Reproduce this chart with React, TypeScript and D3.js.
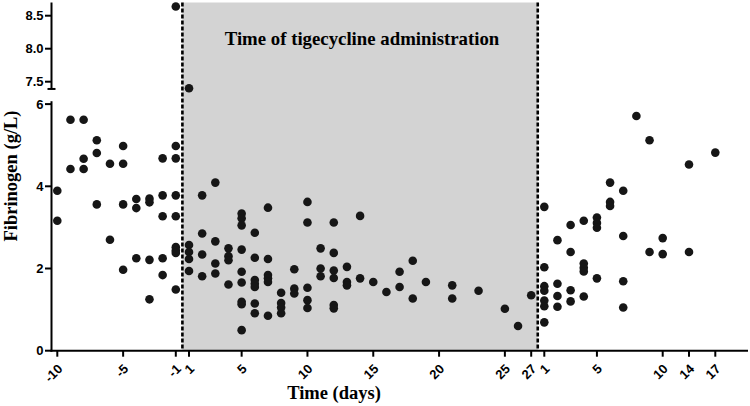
import React, { useRef, useEffect } from "react";
import * as d3 from "d3";

// tick labels per x segment (before / during / after tigecycline)
const beforeTicks = [-10, -5, -1];
const duringTicks = [1, 5, 10, 15, 20, 25, 27];
const afterTicks = [1, 5, 10, 14, 17];
const lowerTicks = [0, 2, 4, 6];
const upperTicks = [7.5, 8.0, 8.5];

// [day, fibrinogen g/L]
const beforeData: [number, number][] = [
  [-10, 3.89], [-10, 3.16],
  [-9, 5.62], [-9, 4.42],
  [-8, 5.62], [-8, 4.67], [-8, 4.42],
  [-7, 5.12], [-7, 4.81], [-7, 3.56],
  [-6, 4.55], [-6, 2.7],
  [-5, 4.98], [-5, 4.55], [-5, 3.56], [-5, 1.97],
  [-4, 3.69], [-4, 3.47], [-4, 2.25],
  [-3, 3.7], [-3, 3.61], [-3, 2.21], [-3, 1.25],
  [-2, 4.68], [-2, 3.78], [-2, 3.27], [-2, 2.25], [-2, 1.84],
  [-1, 8.64], [-1, 4.98], [-1, 4.68], [-1, 3.78], [-1, 3.27], [-1, 2.52], [-1, 2.44], [-1, 2.38], [-1, 1.49],
];

const duringData: [number, number][] = [
  [1, 7.4], [1, 2.57], [1, 2.4], [1, 2.23], [1, 1.94],
  [2, 3.78], [2, 2.85], [2, 2.34], [2, 1.81],
  [3, 4.09], [3, 2.66], [3, 2.12], [3, 1.88],
  [4, 2.49], [4, 2.3], [4, 2.2], [4, 1.61],
  [5, 3.34], [5, 3.22], [5, 3.05], [5, 2.46], [5, 1.92], [5, 1.66], [5, 1.19], [5, 1.13], [5, 0.5],
  [6, 2.87], [6, 2.26], [6, 1.72], [6, 1.63], [6, 1.55], [6, 1.15], [6, 0.91],
  [7, 3.48], [7, 2.23], [7, 1.84], [7, 1.76], [7, 1.67], [7, 0.85],
  [8, 1.41], [8, 1.16], [8, 1.05], [8, 0.91],
  [9, 1.98], [9, 1.51], [9, 1.39],
  [10, 3.62], [10, 3.12], [10, 1.53], [10, 1.23], [10, 1.04],
  [11, 2.49], [11, 2.0], [11, 1.81],
  [12, 3.12], [12, 2.38], [12, 1.95], [12, 1.77], [12, 1.11], [12, 1.03],
  [13, 2.04], [13, 1.67], [13, 1.59],
  [14, 3.28], [14, 1.76],
  [15, 1.67], [16, 1.43], [17, 1.92], [17, 1.55], [18, 2.19], [18, 1.27],
  [19, 1.67], [21, 1.59], [21, 1.27], [23, 1.46], [25, 1.02], [26, 0.6], [27, 1.35],
];

const afterData: [number, number][] = [
  [1, 3.5], [1, 2.03], [1, 1.57], [1, 1.46], [1, 1.22], [1, 1.08], [1, 0.69],
  [2, 2.69], [2, 1.63], [2, 1.33], [2, 1.07],
  [3, 3.06], [3, 2.4], [3, 1.47], [3, 1.2],
  [4, 3.16], [4, 2.12], [4, 2.02], [4, 1.93], [4, 1.32],
  [5, 3.24], [5, 3.11], [5, 2.99], [5, 1.76],
  [6, 4.09], [6, 3.62], [6, 3.52],
  [7, 3.89], [7, 2.79], [7, 1.69], [7, 1.05],
  [8, 5.71],
  [9, 5.12], [9, 2.4],
  [10, 2.74], [10, 2.35],
  [14, 4.53], [14, 2.4],
  [17, 4.82],
];

const SANS = "'Liberation Sans', Arial, sans-serif";
const SERIF = "'Liberation Serif', 'Times New Roman', serif";

export default function App() {
  const ref = useRef<SVGSVGElement>(null);

  useEffect(() => {
    const width = 750, height = 406;
    const svg = d3.select(ref.current).attr("width", width).attr("height", height);
    svg.selectAll("*").remove();

    const axisX = 51.5;
    const xBefore = d3.scaleLinear().domain([-10, -1]).range([57.3, 175.8]);
    const xDuring = d3.scaleLinear().domain([1, 27]).range([189, 531.2]);
    // after segment is not linear: 10, 14, 17 evenly spaced
    const xAfter = d3.scaleLinear().domain([1, 10, 14, 17]).range([544.3, 662.7, 689, 715.3]);

    const yLow = d3.scaleLinear().domain([0, 6]).range([350.7, 104.1]);
    const yHigh = d3.scaleLinear().domain([7.5, 8.5]).range([81.7, 15.7]);
    const yOf = (v: number) => (v > 7 ? yHigh(v) : yLow(v));

    const base = yLow(0);
    const dash1 = (xBefore(-1) + xDuring(1)) / 2;
    const dash2 = (xDuring(27) + xAfter(1)) / 2;
    const top = yHigh(8.7);

    // shaded treatment period
    svg.append("rect")
      .attr("x", dash1).attr("y", top)
      .attr("width", dash2 - dash1).attr("height", base - top)
      .attr("fill", "#d3d3d3");

    svg.append("text")
      .attr("x", 362).attr("y", 45)
      .attr("text-anchor", "middle")
      .style("font-family", SERIF).style("font-weight", "bold").style("font-size", "18.8px")
      .text("Time of tigecycline administration");

    // dashed boundaries
    [dash1, dash2].forEach(x => {
      svg.append("line")
        .attr("x1", x).attr("x2", x).attr("y1", top).attr("y2", base)
        .attr("stroke", "#000").attr("stroke-width", 2.6).attr("stroke-dasharray", "4 2");
    });

    // y axis, lower part
    svg.append("line")
      .attr("x1", axisX).attr("x2", axisX).attr("y1", yLow(6.07)).attr("y2", base + 1)
      .attr("stroke", "#000").attr("stroke-width", 2);
    // y axis, upper part
    svg.append("line")
      .attr("x1", axisX).attr("x2", axisX).attr("y1", top).attr("y2", yHigh(7.39))
      .attr("stroke", "#000").attr("stroke-width", 2);
    svg.append("line")
      .attr("x1", axisX - 4).attr("x2", axisX + 4).attr("y1", yHigh(7.39)).attr("y2", yHigh(7.39))
      .attr("stroke", "#000").attr("stroke-width", 2);

    const yTicks = [
      ...lowerTicks.map(v => ({ y: yLow(v), label: String(v) })),
      ...upperTicks.map(v => ({ y: yHigh(v), label: v.toFixed(1) })),
    ];
    yTicks.forEach(t => {
      svg.append("line")
        .attr("x1", axisX - 6.5).attr("x2", axisX).attr("y1", t.y).attr("y2", t.y)
        .attr("stroke", "#000").attr("stroke-width", 2);
      svg.append("text")
        .attr("x", axisX - 8).attr("y", t.y).attr("dy", "0.36em")
        .attr("text-anchor", "end")
        .style("font-family", SANS).style("font-weight", "bold").style("font-size", "13px")
        .text(t.label);
    });

    // x axis
    svg.append("line")
      .attr("x1", axisX - 1).attr("x2", 748).attr("y1", base).attr("y2", base)
      .attr("stroke", "#000").attr("stroke-width", 2);

    const xTicks = [
      ...beforeTicks.map(d => ({ x: xBefore(d), label: String(d) })),
      ...duringTicks.map(d => ({ x: xDuring(d), label: String(d) })),
      ...afterTicks.map(d => ({ x: xAfter(d), label: String(d) })),
    ];
    xTicks.forEach(t => {
      svg.append("line")
        .attr("x1", t.x).attr("x2", t.x).attr("y1", base).attr("y2", base + 6)
        .attr("stroke", "#000").attr("stroke-width", 2);
      svg.append("text")
        .attr("transform", `translate(${t.x + 6},${base + 19}) rotate(-45)`)
        .attr("text-anchor", "end")
        .style("font-family", SANS).style("font-weight", "bold").style("font-size", "13px")
        .text(t.label);
    });

    // axis titles
    svg.append("text")
      .attr("x", 334).attr("y", 399)
      .attr("text-anchor", "middle")
      .style("font-family", SERIF).style("font-weight", "bold").style("font-size", "18.5px")
      .text("Time (days)");
    svg.append("text")
      .attr("transform", `translate(17,176) rotate(-90)`)
      .attr("text-anchor", "middle")
      .style("font-family", SERIF).style("font-weight", "bold").style("font-size", "18.5px")
      .text("Fibrinogen (g/L)");

    // points
    const dots = [
      ...beforeData.map(([d, v]) => [xBefore(d), yOf(v)]),
      ...duringData.map(([d, v]) => [xDuring(d), yOf(v)]),
      ...afterData.map(([d, v]) => [xAfter(d), yOf(v)]),
    ];
    svg.append("g").selectAll("circle")
      .data(dots)
      .enter()
      .append("circle")
      .attr("cx", d => d[0])
      .attr("cy", d => d[1])
      .attr("r", 4.3)
      .attr("fill", "#161616");
  }, []);

  return (
    <svg ref={ref} style={{ position: "absolute", left: 0, top: 0, background: "#fff" }}></svg>
  );
}
